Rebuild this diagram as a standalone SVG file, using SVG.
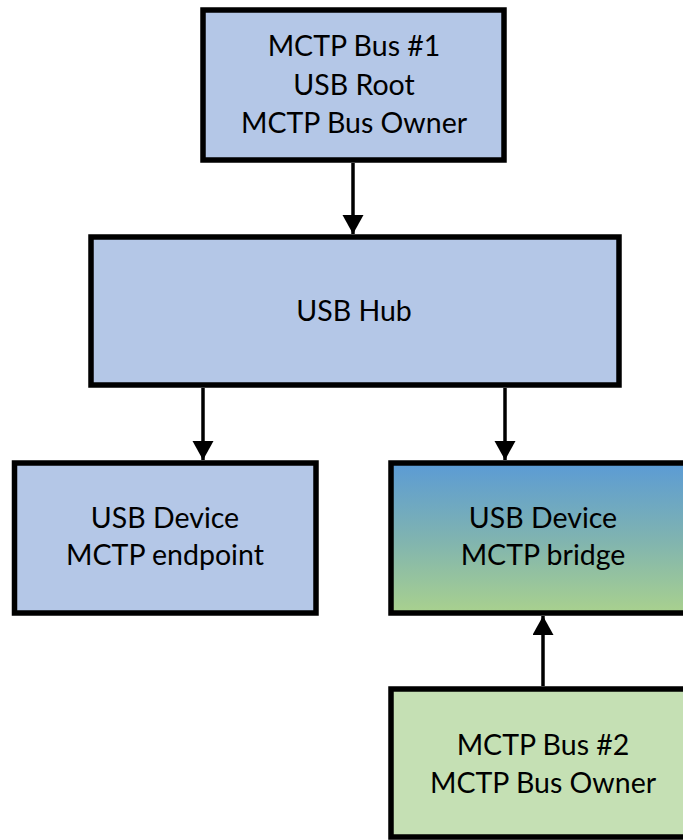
<svg xmlns="http://www.w3.org/2000/svg" width="683" height="840" viewBox="0 0 683 840">
<defs>
<style>
.box{stroke:#000;stroke-width:5.5}
.blue{fill:#B4C7E7}
.green{fill:#C5E0B4}
.t{font-family:Lato,"Liberation Sans",sans-serif;font-size:28.5px;fill:#000;text-anchor:middle}
.c{stroke:#000;stroke-width:3.5;fill:none}
</style>
<linearGradient id="g" x1="0" y1="0" x2="0" y2="1">
<stop offset="0" stop-color="#5B9BD5"/>
<stop offset="0.5" stop-color="#7FB3B1"/>
<stop offset="1" stop-color="#A9D18E"/>
</linearGradient>
<marker id="ah" markerUnits="userSpaceOnUse" markerWidth="22" markerHeight="22" refX="19" refY="10.5" orient="auto">
<path d="M0,0 L19,10.5 L0,21 Z" fill="#000"/>
</marker>
</defs>
<g id="connectors">
<line class="c" x1="353" y1="163" x2="353" y2="234" marker-end="url(#ah)"/>
<line class="c" x1="203" y1="388" x2="203" y2="460" marker-end="url(#ah)"/>
<line class="c" x1="505" y1="388" x2="505" y2="460" marker-end="url(#ah)"/>
<line class="c" x1="543" y1="686" x2="543" y2="616" marker-end="url(#ah)"/>
</g>
<g id="root">
<rect class="box blue" x="203" y="10" width="301" height="150"/>
<text class="t" x="354" y="56">MCTP Bus #1</text>
<text class="t" x="354" y="95">USB Root</text>
<text class="t" x="354" y="133">MCTP Bus Owner</text>
</g>
<g id="hub">
<rect class="box blue" x="91" y="237" width="528" height="148"/>
<text class="t" x="354" y="321">USB Hub</text>
</g>
<g id="endpoint">
<rect class="box blue" x="14.5" y="463" width="301.5" height="150"/>
<text class="t" x="165" y="528">USB Device</text>
<text class="t" x="165" y="565">MCTP endpoint</text>
</g>
<g id="bridge">
<rect class="box" fill="url(#g)" x="391" y="463" width="300" height="150"/>
<text class="t" x="543" y="528">USB Device</text>
<text class="t" x="543" y="565">MCTP bridge</text>
</g>
<g id="bus2">
<rect class="box green" x="391" y="689" width="300" height="148"/>
<text class="t" x="543" y="755">MCTP Bus #2</text>
<text class="t" x="543" y="793">MCTP Bus Owner</text>
</g>
</svg>
